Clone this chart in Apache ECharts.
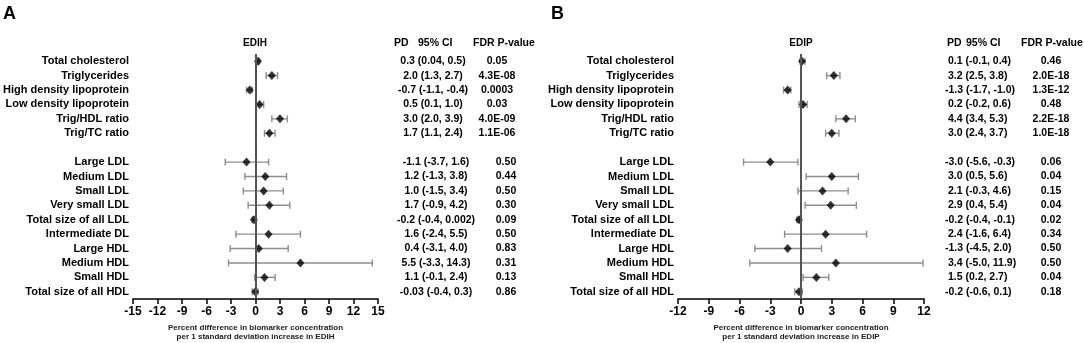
<!DOCTYPE html>
<html>
<head>
<meta charset="utf-8">
<script src="https://cdn.jsdelivr.net/npm/echarts@6/dist/echarts.min.js"></script>
<style>
  html, body { margin: 0; padding: 0; background: #fff; }
  #chart { width: 1084px; height: 343px; }
</style>
</head>
<body>
<div id="chart"></div>
<script>
var FONT = "'Liberation Sans', Arial, sans-serif";

// rows, top to bottom ('' = spacer row)
var rows = ['Total cholesterol', 'Triglycerides', 'High density lipoprotein', 'Low density lipoprotein',
  'Trig/HDL ratio', 'Trig/TC ratio', '', 'Large LDL', 'Medium LDL', 'Small LDL', 'Very small LDL',
  'Total size of all LDL', 'Intermediate DL', 'Large HDL', 'Medium HDL', 'Small HDL', 'Total size of all HDL'];

// panel A - EDIH
var estA = ['0.3', '2.0', '-0.7', '0.5', '3.0', '1.7', '', '-1.1', '1.2', '1.0', '1.7', '-0.2', '1.6', '0.4', '5.5', '1.1', '-0.03'];
var loA  = ['0.04', '1.3', '-1.1', '0.1', '2.0', '1.1', '', '-3.7', '-1.3', '-1.5', '-0.9', '-0.4', '-2.4', '-3.1', '-3.3', '-0.1', '-0.4'];
var hiA  = ['0.5', '2.7', '-0.4', '1.0', '3.9', '2.4', '', '1.6', '3.8', '3.4', '4.2', '0.002', '5.5', '4.0', '14.3', '2.4', '0.3'];
var pA   = ['0.05', '4.3E-08', '0.0003', '0.03', '4.0E-09', '1.1E-06', '', '0.50', '0.44', '0.50', '0.30', '0.09', '0.50', '0.83', '0.31', '0.13', '0.86'];

// panel B - EDIP
var estB = ['0.1', '3.2', '-1.3', '0.2', '4.4', '3.0', '', '-3.0', '3.0', '2.1', '2.9', '-0.2', '2.4', '-1.3', '3.4', '1.5', '-0.2'];
var loB  = ['-0.1', '2.5', '-1.7', '-0.2', '3.4', '2.4', '', '-5.6', '0.5', '-0.3', '0.4', '-0.4', '-1.6', '-4.5', '-5.0', '0.2', '-0.6'];
var hiB  = ['0.4', '3.8', '-1.0', '0.6', '5.3', '3.7', '', '-0.3', '5.6', '4.6', '5.4', '-0.1', '6.4', '2.0', '11.9', '2.7', '0.1'];
var pB   = ['0.46', '2.0E-18', '1.3E-12', '0.48', '2.2E-18', '1.0E-18', '', '0.06', '0.04', '0.15', '0.04', '0.02', '0.34', '0.50', '0.50', '0.04', '0.18'];

var ticksA = [-15, 15, 3];
var ticksB = [-12, 12, 3];

var chart = echarts.init(document.getElementById('chart'));

var grids = [], xAxes = [], yAxes = [], series = [];

function txt(size, extra) {
  var s = { fontFamily: FONT, fontWeight: 'bold', fontSize: size, color: '#000' };
  for (var k in extra) s[k] = extra[k];
  return s;
}

function panel(p) {
  var g = grids.length;
  grids.push({ left: p.left, width: p.width, top: 54, height: 245, outerBoundsMode: 'none', containLabel: false });
  xAxes.push({
    type: 'value', gridIndex: g, min: p.ticks[0], max: p.ticks[1], interval: p.ticks[2],
    axisLine: { show: true, onZero: false, lineStyle: { color: '#000', width: 1.5 } },
    axisTick: { show: true, length: 5, lineStyle: { color: '#000', width: 1.5 } },
    axisLabel: txt(12, { margin: 7 }),
    splitLine: { show: false },
    name: 'Percent difference in biomarker concentration\nper 1 standard deviation increase in ' + p.name,
    nameLocation: 'middle', nameGap: 23,
    nameTextStyle: txt(8, { lineHeight: 9, color: '#222' })
  });
  var y0 = yAxes.length;
  var base = {
    type: 'category', gridIndex: g, data: rows, inverse: true,
    axisLine: { show: false }, axisTick: { show: false }, splitLine: { show: false }
  };
  // row names
  yAxes.push(Object.assign({}, base, {
    position: 'left',
    axisLabel: txt(11, { margin: 4, interval: 0 })
  }));
  // PD (95% CI)
  yAxes.push(Object.assign({}, base, {
    position: 'right', offset: p.pdOffset,
    axisLabel: {
      interval: 0, margin: 0, align: p.pdAlign,
      formatter: function (v, i) {
        if (p.est[i] === '') return '';
        var s = p.est[i] + ' (' + p.lo[i] + ', ' + p.hi[i] + ')';
        if (p.pdAlign === 'left' && p.est[i][0] !== '-') s = ' ' + s;
        return i > 6 ? '{b|' + s + '}' : '{a|' + s + '}';
      },
      rich: {
        a: txt(10.5, {}),
        b: txt(10.5, { padding: [0, 0, 0, p.pdShift] })
      }
    }
  }));
  // FDR p-value
  yAxes.push(Object.assign({}, base, {
    position: 'right', offset: p.pOffset,
    axisLabel: {
      interval: 0, margin: 0, align: 'center',
      formatter: function (v, i) {
        return i > 6 ? '{b|' + p.p[i] + '}' : '{a|' + p.p[i] + '}';
      },
      rich: {
        a: txt(10.5, {}),
        b: txt(10.5, { padding: [0, 0, 0, p.pShift] })
      }
    }
  }));

  var bars = [], pts = [];
  for (var i = 0; i < rows.length; i++) {
    if (p.est[i] === '') continue;
    bars.push([Number(p.lo[i]), i, Number(p.hi[i])]);
    pts.push([Number(p.est[i]), i]);
  }
  series.push({
    type: 'custom', xAxisIndex: g, yAxisIndex: y0, silent: true, z: 2,
    data: bars,
    encode: { x: [0, 2], y: 1 },
    renderItem: function (params, api) {
      var a = api.coord([api.value(0), api.value(1)]);
      var b = api.coord([api.value(2), api.value(1)]);
      var h = 3.5;
      var st = { stroke: '#8e8e8e', lineWidth: 1.4 };
      return {
        type: 'group', children: [
          { type: 'line', shape: { x1: a[0], y1: a[1], x2: b[0], y2: b[1] }, style: st },
          { type: 'line', shape: { x1: a[0], y1: a[1] - h, x2: a[0], y2: a[1] + h }, style: st },
          { type: 'line', shape: { x1: b[0], y1: b[1] - h, x2: b[0], y2: b[1] + h }, style: st }
        ]
      };
    }
  });
  series.push({
    type: 'scatter', xAxisIndex: g, yAxisIndex: y0, z: 3,
    symbol: 'diamond', symbolSize: [8, 9],
    itemStyle: { color: '#000' },
    data: pts,
    markLine: {
      silent: true, symbol: 'none', label: { show: false },
      lineStyle: { color: '#555', width: 2, type: 'solid' },
      data: [{ xAxis: 0 }]
    }
  });
}

panel({ name: 'EDIH', left: 133, width: 245, ticks: ticksA, est: estA, lo: loA, hi: hiA, p: pA,
  pdAlign: 'center', pdOffset: 55, pdShift: 6, pOffset: 119, pShift: 18 });
panel({ name: 'EDIP', left: 678, width: 246, ticks: ticksB, est: estB, lo: loB, hi: hiB, p: pB,
  pdAlign: 'left', pdOffset: 21, pdShift: 0, pOffset: 127, pShift: 0 });

chart.setOption({
  animation: false,
  grid: grids,
  xAxis: xAxes,
  yAxis: yAxes,
  series: series,
  graphic: [
    { type: 'text', x: 3, y: 5, style: { text: 'A', font: 'bold 18px ' + FONT, fill: '#000' } },
    { type: 'text', x: 551, y: 5, style: { text: 'B', font: 'bold 18px ' + FONT, fill: '#000' } },
    { type: 'text', x: 255, y: 38, style: { text: 'EDIH', font: 'bold 10px ' + FONT, fill: '#000', align: 'center' } },
    { type: 'text', x: 801, y: 38, style: { text: 'EDIP', font: 'bold 10px ' + FONT, fill: '#000', align: 'center' } },
    { type: 'text', x: 394, y: 38, style: { text: 'PD', font: 'bold 10.5px ' + FONT, fill: '#000' } },
    { type: 'text', x: 418, y: 38, style: { text: '95% CI', font: 'bold 10.5px ' + FONT, fill: '#000' } },
    { type: 'text', x: 473, y: 38, style: { text: 'FDR P-value', font: 'bold 10.5px ' + FONT, fill: '#000' } },
    { type: 'text', x: 947, y: 38, style: { text: 'PD', font: 'bold 10.5px ' + FONT, fill: '#000' } },
    { type: 'text', x: 966, y: 38, style: { text: '95% CI', font: 'bold 10.5px ' + FONT, fill: '#000' } },
    { type: 'text', x: 1021, y: 38, style: { text: 'FDR P-value', font: 'bold 10.5px ' + FONT, fill: '#000' } }
  ]
});
</script>
</body>
</html>
